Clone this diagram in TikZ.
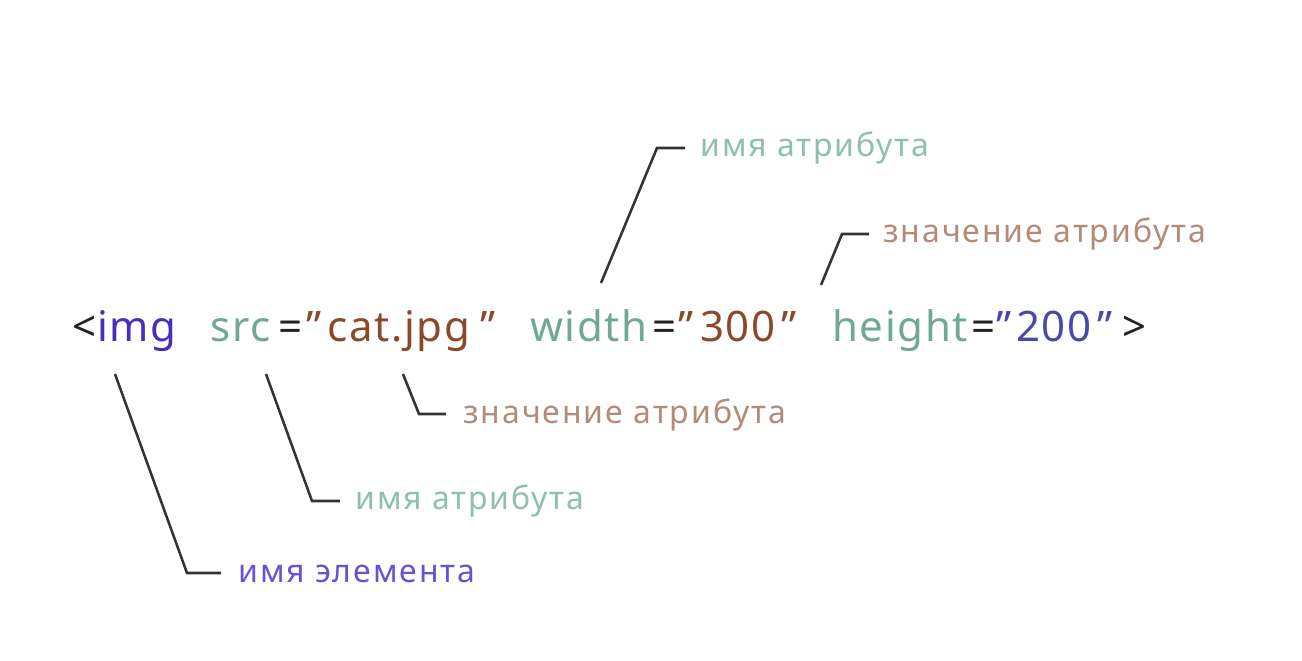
\documentclass[tikz,border=0pt]{standalone}
\usepackage{fontspec}
\setmainfont{Noto Sans}
\newfontfamily\codefont[LetterSpace=4]{Noto Sans}
\newfontfamily\lblfont[LetterSpace=6]{Noto Sans}
\definecolor{cblack}{HTML}{222222}
\definecolor{cpurple}{HTML}{4B2DBD}
\definecolor{cteal}{HTML}{6FA896}
\definecolor{cbrown}{HTML}{8A4A2A}
\definecolor{cblue}{HTML}{4A48A8}
\definecolor{lteal}{HTML}{8EC0AD}
\definecolor{lbrown}{HTML}{B38B78}
\definecolor{lpurple}{HTML}{6B4FD6}
\definecolor{cline}{HTML}{333333}
\tikzset{
  code/.style={anchor=base west, inner sep=0pt, font=\codefont\fontsize{31.5}{36}\selectfont},
  lbl/.style={anchor=base west, inner sep=0pt, font=\lblfont\fontsize{24}{28}\selectfont},
  leader/.style={draw=cline, line width=1.9pt, line join=miter},
}
\begin{document}
\begin{tikzpicture}[x=0.75pt,y=-0.75pt]
\useasboundingbox[fill=white] (0,0) rectangle (1302,660);
% code line
\node[code, text=cblack]  (lt)     at (72,341)  {<};
\node[code, text=cpurple] (img)    at (97,341)  {img};
\node[code, text=cteal]   (src)    at (210,341) {src};
\node[code, text=cblack]  (eq1)    at (278,341) {=};
\node[code, text=cbrown]  (q1o)    at (306,341) {”};
\node[code, text=cbrown]  (catjpg) at (327,341) {cat.jpg};
\node[code, text=cbrown]  (q1c)    at (480,341) {”};
\node[code, text=cteal]   (width)  at (530,341) {width};
\node[code, text=cblack]  (eq2)    at (652,341) {=};
\node[code, text=cbrown]  (q2o)    at (678,341) {”};
\node[code, text=cbrown]  (v300)   at (700,341) {300};
\node[code, text=cbrown]  (q2c)    at (781,341) {”};
\node[code, text=cteal]   (height) at (832,341) {height};
\node[code, text=cblack]  (eq3)    at (971,341) {=};
\node[code, text=cblue]   (q3o)    at (996,341) {”};
\node[code, text=cblue]   (v200)   at (1016,341) {200};
\node[code, text=cblue]   (q3c)    at (1097,341) {”};
\node[code, text=cblack]  (gt)     at (1122,341) {>};
% labels
\node[lbl, text=lpurple] (l1) at (238,582) {имя элемента};
\node[lbl, text=lteal]   (l2) at (355,509) {имя атрибута};
\node[lbl, text=lbrown]  (l3) at (463,423) {значение атрибута};
\node[lbl, text=lteal]   (l4) at (700,156) {имя атрибута};
\node[lbl, text=lbrown]  (l5) at (883,242) {значение атрибута};
% leader coordinates
\coordinate (a1) at (115,374); \coordinate (b1) at (187,573); \coordinate (e1) at (221,573);
\coordinate (a2) at (266,374); \coordinate (b2) at (312,501); \coordinate (e2) at (340,501);
\coordinate (a3) at (403,374); \coordinate (b3) at (419,414); \coordinate (e3) at (446,414);
\coordinate (a4) at (601,283); \coordinate (b4) at (657,148); \coordinate (e4) at (685,148);
\coordinate (a5) at (821,285); \coordinate (b5) at (842,234); \coordinate (e5) at (869,234);
\draw[leader] (a1) -- (b1) -- (e1);
\draw[leader] (a2) -- (b2) -- (e2);
\draw[leader] (a3) -- (b3) -- (e3);
\draw[leader] (a4) -- (b4) -- (e4);
\draw[leader] (a5) -- (b5) -- (e5);
\end{tikzpicture}
\end{document}
